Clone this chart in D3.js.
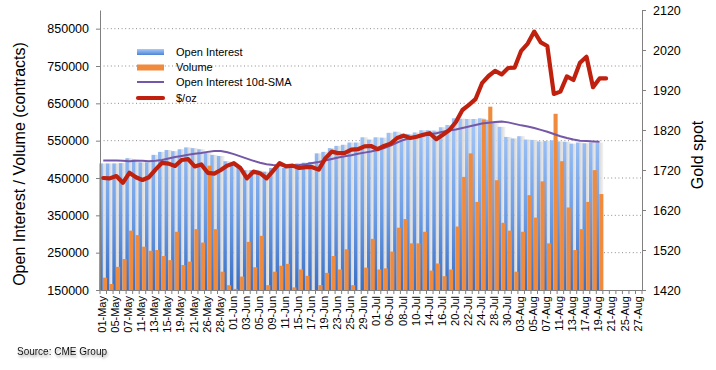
<!DOCTYPE html>
<html>
<head>
<meta charset="utf-8">
<script src="https://cdn.jsdelivr.net/npm/d3@7/dist/d3.min.js"></script>
<style>
  body { margin: 0; background: #fff; }
  svg { font-family: "Liberation Sans", Arial, sans-serif; }
</style>
</head>
<body>
<div class="chart"></div>
<script>
// trading days shown on the category axis
var dates = ["01-May","04-May","05-May","06-May","07-May","08-May","11-May","12-May","13-May","14-May",
  "15-May","18-May","19-May","20-May","21-May","22-May","26-May","27-May","28-May","29-May",
  "01-Jun","02-Jun","03-Jun","04-Jun","05-Jun","08-Jun","09-Jun","10-Jun","11-Jun","12-Jun",
  "15-Jun","16-Jun","17-Jun","18-Jun","19-Jun","22-Jun","23-Jun","24-Jun","25-Jun","26-Jun",
  "29-Jun","30-Jun","01-Jul","02-Jul","06-Jul","07-Jul","08-Jul","09-Jul","10-Jul","13-Jul",
  "14-Jul","15-Jul","16-Jul","17-Jul","20-Jul","21-Jul","22-Jul","23-Jul","24-Jul","27-Jul",
  "28-Jul","29-Jul","30-Jul","31-Jul","03-Aug","04-Aug","05-Aug","06-Aug","07-Aug","10-Aug",
  "11-Aug","12-Aug","13-Aug","14-Aug","17-Aug","18-Aug","19-Aug","20-Aug","21-Aug","24-Aug",
  "25-Aug","26-Aug","27-Aug"];

var openInterest = [489000,489000,489000,490000,503000,500000,492000,492000,512000,520000,
  525000,522000,527000,532000,530000,527000,520000,512000,509000,495000,
  485000,477000,471000,471000,470000,467000,477000,482000,477000,482000,
  489000,491000,493000,516000,520000,530000,536000,539000,545000,545000,
  559000,553000,559000,558000,571000,574000,569000,568000,572000,578000,
  578000,577000,586000,592000,610000,609000,608000,608000,610000,606000,
  598000,587000,560000,556000,562000,553000,552000,548000,549000,551000,
  548000,547000,542000,545000,543000,545000,545000];

var volume = [183000,166000,212000,233000,309000,297000,266000,255000,257000,241000,
  230000,306000,217000,226000,313000,277000,483000,313000,199000,163000,
  153000,186000,279000,211000,295000,163000,199000,215000,220000,157000,
  205000,188000,150000,163000,196000,241000,205000,259000,163000,150000,
  210000,287000,205000,208000,253000,317000,340000,275000,275000,306000,
  202000,221000,187000,205000,320000,453000,516000,386000,607000,641000,
  444000,330000,309000,199000,306000,404000,344000,441000,275000,622000,
  495000,371000,257000,313000,386000,471000,407000];

var oiSma = [497000,497000,497000,496000,495000,496000,496000,495000,496000,498000,
  502000,506000,509000,512000,515000,517000,520000,522000,522000,519000,
  514000,508000,502000,496000,491000,487000,485000,484000,483000,484000,
  485000,487000,490000,493000,497000,501000,505000,508000,511000,515000,
  518000,521000,525000,530000,537000,545000,552000,557000,561000,564000,
  567000,570000,574000,577000,580000,584000,588000,592000,596000,598000,
  600000,601000,599000,595000,591000,588000,584000,579000,574000,568000,
  562000,557000,553000,550000,549000,548000,547000];

var goldPrice = [1700,1699,1705,1688,1713,1702,1695,1702,1721,1738,
  1736,1730,1745,1747,1729,1734,1713,1711,1720,1731,
  1737,1725,1699,1716,1712,1699,1718,1737,1729,1731,
  1725,1727,1727,1721,1749,1766,1762,1763,1771,1772,
  1779,1780,1772,1780,1786,1800,1806,1800,1803,1808,
  1812,1797,1808,1820,1840,1870,1883,1897,1937,1955,
  1968,1959,1975,1976,2018,2036,2066,2039,2030,1910,
  1916,1954,1945,1988,2003,1927,1949,1949];

var leftTicks = [150000,250000,350000,450000,550000,650000,750000,850000];
var rightTicks = [1420,1520,1620,1720,1820,1920,2020,2120];

var width = 716, height = 370;
var plot = { left: 100, right: 642, top: 10, bottom: 290 };

var svg = d3.select('.chart').append('svg')
  .attr('width', width)
  .attr('height', height);

var defs = svg.append('defs');

var blueGrad = defs.append('linearGradient')
  .attr('id', 'blueGrad')
  .attr('gradientUnits', 'userSpaceOnUse')
  .attr('x1', 0).attr('x2', 0).attr('y1', 130).attr('y2', plot.bottom);
blueGrad.append('stop').attr('offset', 0).attr('stop-color', '#9fc3f6');
blueGrad.append('stop').attr('offset', 0.5).attr('stop-color', '#6f9fe6');
blueGrad.append('stop').attr('offset', 1).attr('stop-color', '#3a6fc4');

var legGrad = defs.append('linearGradient')
  .attr('id', 'legGrad')
  .attr('x1', 0).attr('x2', 0).attr('y1', 0).attr('y2', 1);
legGrad.append('stop').attr('offset', 0).attr('stop-color', '#a9cbf8');
legGrad.append('stop').attr('offset', 1).attr('stop-color', '#4d84d6');

var shadowGrad = defs.append('linearGradient')
  .attr('id', 'shadowGrad')
  .attr('x1', 0).attr('x2', 1).attr('y1', 0).attr('y2', 0);
shadowGrad.append('stop').attr('offset', 0).attr('stop-color', '#cdcdcd');
shadowGrad.append('stop').attr('offset', 0.6).attr('stop-color', '#e4e4e4');
shadowGrad.append('stop').attr('offset', 1).attr('stop-color', '#f3f3f3');

var txtShadow = defs.append('filter').attr('id', 'txtShadow')
  .attr('x', '-10%').attr('y', '-50%').attr('width', '130%').attr('height', '200%');
txtShadow.append('feDropShadow')
  .attr('dx', 1).attr('dy', 2).attr('stdDeviation', 1.2)
  .attr('flood-color', '#777').attr('flood-opacity', 0.7);

// scales
var x = d3.scaleBand()
  .domain(dates)
  .range([plot.left, plot.right])
  .padding(0);
var bw = x.bandwidth();
var cx = function (i) { return x(dates[i]) + bw / 2; };

var yL = d3.scaleLinear().domain([150000, 900000]).range([plot.bottom, plot.top]);
var yR = d3.scaleLinear().domain([1420, 2120]).range([plot.bottom, plot.top]);

// dotted gridlines
svg.append('g').attr('class', 'grid')
  .selectAll('line')
  .data(leftTicks.slice(1))
  .enter().append('line')
  .attr('x1', plot.left).attr('x2', plot.right)
  .attr('y1', function (d) { return yL(d); })
  .attr('y2', function (d) { return yL(d); })
  .attr('stroke', '#8c8c8c')
  .attr('stroke-width', 1)
  .attr('stroke-dasharray', '1,2.6');

var bars = svg.append('g').attr('class', 'bars');

// shadow of the open interest bars
bars.selectAll('.shadow')
  .data(openInterest)
  .enter().append('rect')
  .attr('class', 'shadow')
  .attr('x', function (d, i) { return cx(i) - 0.6; })
  .attr('width', 4.4)
  .attr('y', function (d) { return yL(d); })
  .attr('height', function (d) { return plot.bottom - yL(d); })
  .attr('fill', 'url(#shadowGrad)')
  .attr('opacity', 0.85);

bars.selectAll('.oi')
  .data(openInterest)
  .enter().append('rect')
  .attr('class', 'oi')
  .attr('x', function (d, i) { return cx(i) - 4; })
  .attr('width', 3.5)
  .attr('y', function (d) { return yL(d); })
  .attr('height', function (d) { return plot.bottom - yL(d); })
  .attr('fill', 'url(#blueGrad)');

bars.selectAll('.vol')
  .data(volume)
  .enter().append('rect')
  .attr('class', 'vol')
  .attr('x', function (d, i) { return cx(i) - 0.3; })
  .attr('width', 4.1)
  .attr('y', function (d) { return yL(d); })
  .attr('height', function (d) { return plot.bottom - yL(d); })
  .attr('fill', '#f08a3c');

// lines
var smaLine = d3.line()
  .x(function (d, i) { return cx(i); })
  .y(function (d) { return yL(d); });
svg.append('path')
  .datum(oiSma)
  .attr('d', smaLine)
  .attr('fill', 'none')
  .attr('stroke', '#7457a6')
  .attr('stroke-width', 2);

var priceLine = d3.line()
  .x(function (d, i) { return cx(i); })
  .y(function (d) { return yR(d); });
svg.append('path')
  .datum(goldPrice)
  .attr('d', priceLine)
  .attr('fill', 'none')
  .attr('stroke', '#c0200e')
  .attr('stroke-width', 4.2)
  .attr('stroke-linejoin', 'round')
  .attr('stroke-linecap', 'round');

// axes
var leftAxis = svg.append('g')
  .attr('transform', 'translate(' + plot.left + ',0)')
  .call(d3.axisLeft(yL).tickValues(leftTicks).tickFormat(d3.format('d')).tickSize(4).tickSizeOuter(0).tickPadding(7));

var rightAxis = svg.append('g')
  .attr('transform', 'translate(' + plot.right + ',0)')
  .call(d3.axisRight(yR).tickValues(rightTicks).tickFormat(d3.format('d')).tickSize(4).tickSizeOuter(0).tickPadding(7));

var xAxis = svg.append('g')
  .attr('transform', 'translate(0,' + plot.bottom + ')')
  .call(d3.axisBottom(x)
    .tickValues(dates.filter(function (d, i) { return i % 2 === 0; }))
    .tickSize(0).tickSizeOuter(0));

xAxis.selectAll('text')
  .attr('transform', 'rotate(-90)')
  .attr('x', -6)
  .attr('y', -1)
  .attr('dy', '0.35em')
  .style('text-anchor', 'end');

// small tick marks between categories
xAxis.selectAll('.cat-tick')
  .data(dates.concat(['end']))
  .enter().append('line')
  .attr('class', 'cat-tick')
  .attr('x1', function (d) { return d === 'end' ? plot.right : x(d); })
  .attr('x2', function (d) { return d === 'end' ? plot.right : x(d); })
  .attr('y1', 0).attr('y2', 4)
  .attr('stroke', '#808080');

[leftAxis, rightAxis, xAxis].forEach(function (a) {
  a.selectAll('.domain').attr('stroke', '#808080');
  a.selectAll('.tick line').attr('stroke', '#808080');
  a.selectAll('text').attr('fill', '#000');
});
leftAxis.selectAll('text').style('font-size', '12.5px');
rightAxis.selectAll('text').style('font-size', '12.5px');
xAxis.selectAll('text').style('font-size', '11px');
[leftAxis, rightAxis, xAxis].forEach(function (a) {
  a.attr('font-family', null);
});

// axis titles
svg.append('text')
  .attr('transform', 'translate(19,164)rotate(-90)')
  .attr('dy', '0.35em')
  .style('text-anchor', 'middle')
  .style('font-size', '16px')
  .text('Open Interest / Volume (contracts)');

svg.append('text')
  .attr('transform', 'translate(697,155)rotate(-90)')
  .attr('dy', '0.35em')
  .style('text-anchor', 'middle')
  .style('font-size', '16px')
  .text('Gold spot');

// legend
var legend = svg.append('g').attr('class', 'legend').style('font-size', '11px');
var legendItems = ['Open Interest', 'Volume', 'Open Interest 10d-SMA', '$/oz'];
var legendY = [52, 67.5, 82, 98];

legend.append('rect').attr('x', 137).attr('y', 49).attr('width', 27).attr('height', 6)
  .attr('fill', 'url(#legGrad)');
legend.append('rect').attr('x', 137).attr('y', 64.5).attr('width', 27).attr('height', 6)
  .attr('fill', '#f08a3c');
legend.append('line').attr('x1', 137).attr('x2', 164).attr('y1', 82).attr('y2', 82)
  .attr('stroke', '#7457a6').attr('stroke-width', 2);
legend.append('line').attr('x1', 138).attr('x2', 163).attr('y1', 98).attr('y2', 98)
  .attr('stroke', '#c0200e').attr('stroke-width', 4.2).attr('stroke-linecap', 'round');

legend.selectAll('.leg-text')
  .data(legendItems)
  .enter().append('text')
  .attr('class', 'leg-text')
  .attr('x', 176)
  .attr('y', function (d, i) { return legendY[i]; })
  .attr('dy', '0.35em')
  .text(function (d) { return d; });

// source
svg.append('text')
  .attr('x', 17)
  .attr('y', 355)
  .style('font-size', '10px')
  .attr('filter', 'url(#txtShadow)')
  .text('Source: CME Group');
</script>
</body>
</html>
